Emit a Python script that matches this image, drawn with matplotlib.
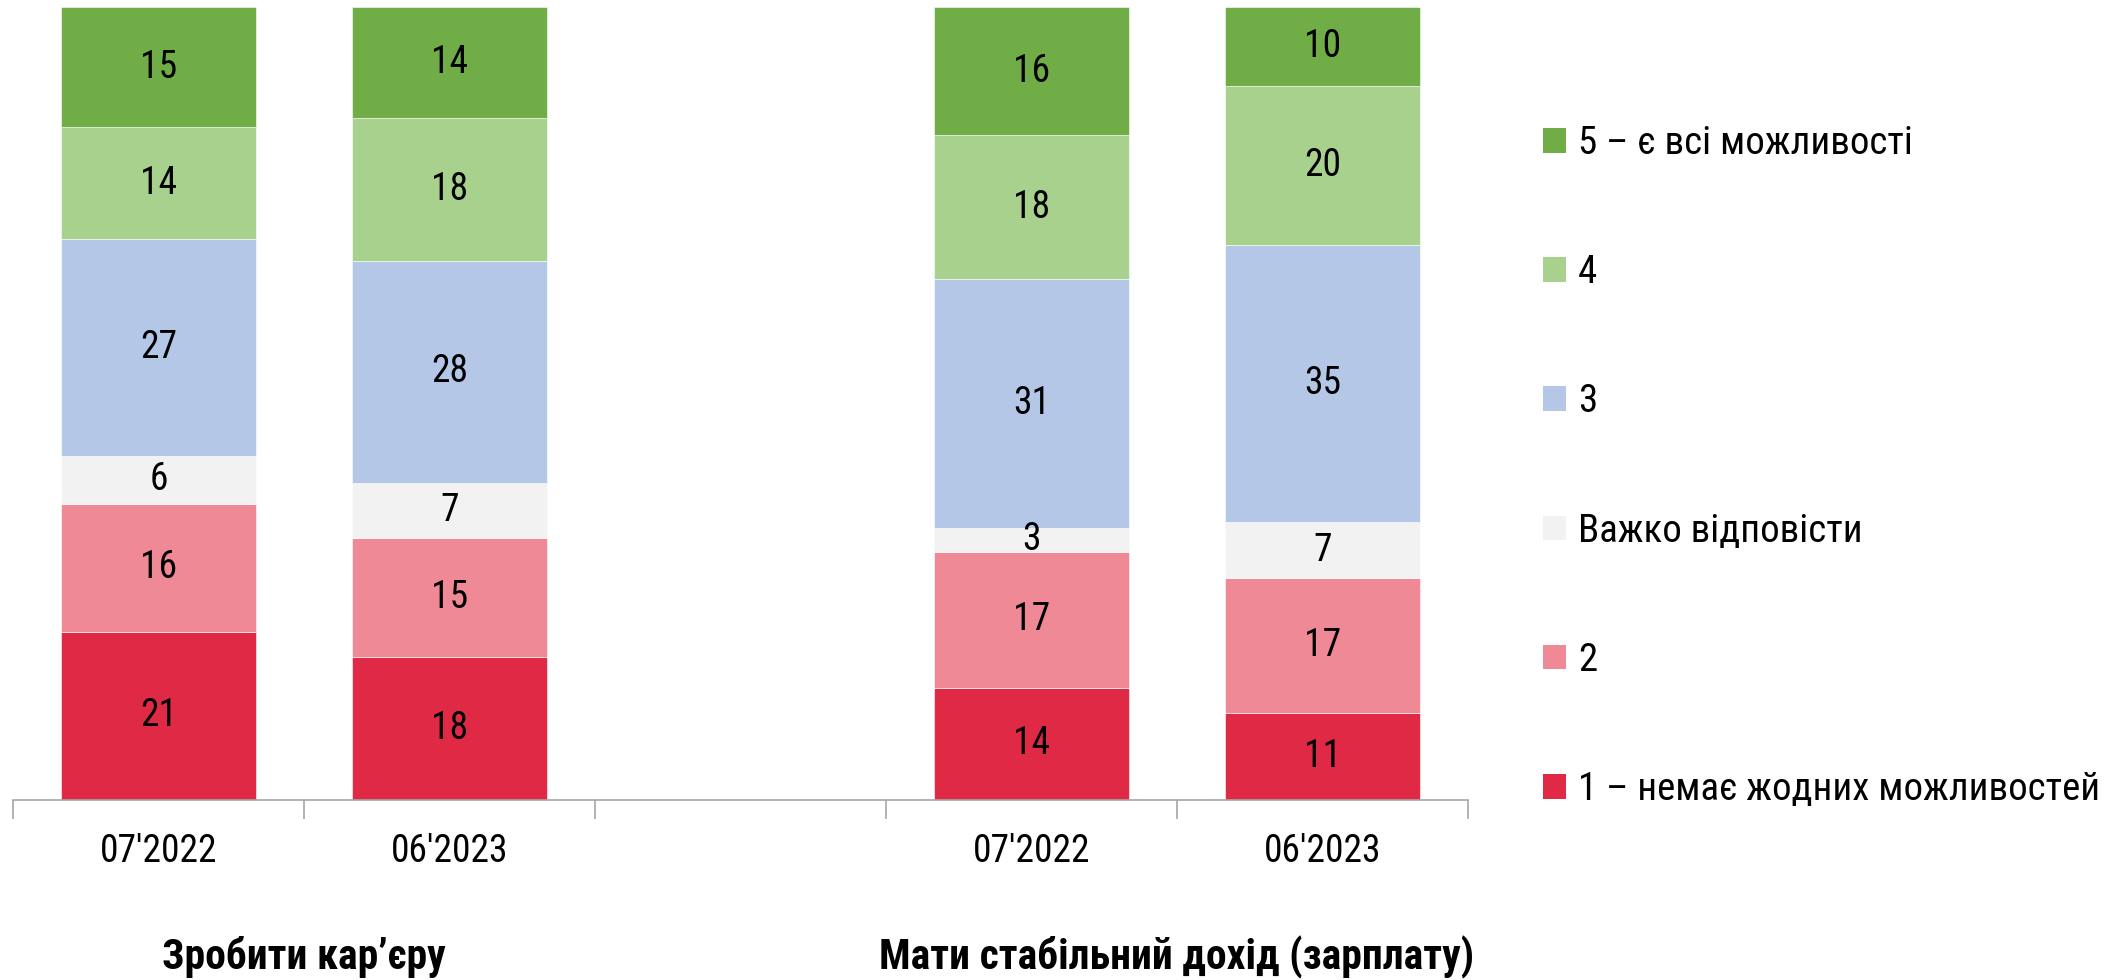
import numpy as np
import matplotlib
matplotlib.use("Agg")
import matplotlib.pyplot as plt
from matplotlib import font_manager
from matplotlib.patches import Patch

# answers, bottom of the stack first
levels = ["1 – немає жодних можливостей", "2", "Важко відповісти", "3", "4", "5 – є всі можливості"]
colors = ["#E02A45", "#EE8995", "#F2F2F2", "#B4C7E7", "#A9D18E", "#70AD47"]

# two questions, two waves each (slot 2 stays empty as a gap)
groups = ["Зробити кар’єру", "Мати стабільний дохід (зарплату)"]
waves = ["07'2022", "06'2023", "07'2022", "06'2023"]
positions = [0, 1, 3, 4]

# values per level, one column per bar
lvl_1 = [21, 18, 14, 11]
lvl_2 = [16, 15, 17, 17]
hard = [6, 7, 3, 7]
lvl_3 = [27, 28, 31, 35]
lvl_4 = [14, 18, 18, 20]
lvl_5 = [15, 14, 16, 10]


def pick_font() -> tuple[str, float]:
	#source uses a narrow Arial, take a narrow face if there is one
	for name in ["Liberation Sans Narrow", "Arial Narrow", "Roboto Condensed"]:
		try:
			font_manager.findfont(font_manager.FontProperties(family=name), fallback_to_default=False)
			return name, 1.0
		except Exception:
			pass
	#plain width font: shrink a bit so the texts keep the same length
	return "Liberation Sans", 0.86


def stacked_chart() -> None:
	family, k = pick_font()
	plt.rcParams["font.family"] = [family, "Liberation Sans", "DejaVu Sans"]
	values = np.array([lvl_1, lvl_2, hard, lvl_3, lvl_4, lvl_5], dtype=float)
	#100% stacked like the source, labels keep the rounded numbers
	shares = values / values.sum(axis=0) * 100

	fig = plt.figure(figsize=(21.23, 9.8), dpi=100)
	ax = fig.add_axes([13 / 2123, 180 / 980, 1455 / 2123, 793 / 980])

	bottom = np.zeros(len(positions))
	for i in range(len(levels)):
		bars = ax.bar(positions, shares[i], width=0.667, bottom=bottom,
			color=colors[i], edgecolor="white", linewidth=0.4)
		for b, v in zip(bars, values[i]):
			ax.text(b.get_x() + b.get_width() / 2, b.get_y() + b.get_height() / 2,
				f"{v:.0f}", ha="center", va="center", fontsize=27 * k, color="black")
		bottom += shares[i]

	ax.set_xlim(-0.5, 4.5)
	ax.set_ylim(0, 100)
	for s in ["top", "right", "left"]:
		ax.spines[s].set_visible(False)
	ax.spines["bottom"].set_color("#A6A6A6")
	ax.spines["bottom"].set_linewidth(1.2)
	ax.set_yticks([])

	#tick marks between slots, labels under the bars
	ax.set_xticks(np.arange(-0.5, 5, 1.0))
	ax.set_xticklabels([])
	ax.tick_params(axis="x", which="major", direction="out", length=14, width=1.2, color="#A6A6A6")
	ax.set_xticks(positions, minor=True)
	ax.set_xticklabels(waves, minor=True, fontsize=27 * k)
	ax.tick_params(axis="x", which="minor", length=0, pad=24)

	#question titles under each pair
	trans = matplotlib.transforms.blended_transform_factory(ax.transData, fig.transFigure)
	ax.text(0.5, 23 / 980, groups[0], transform=trans, ha="center", va="center",
		fontsize=30 * k, fontweight="bold")
	ax.text(3.5, 23 / 980, groups[1], transform=trans, ha="center", va="center",
		fontsize=30 * k, fontweight="bold")

	handles = [Patch(facecolor=c, edgecolor="none") for c in colors]
	fig.legend(handles[::-1], levels[::-1], loc="center left", bbox_to_anchor=(1543 / 2123, 0.524),
		frameon=False, fontsize=28 * k, borderpad=0, borderaxespad=0, handlelength=0.6,
		handleheight=0.6, handletextpad=0.3, labelspacing=2.37)

	fig.savefig("out.png", dpi=100)


def main() -> int:
	stacked_chart()
	return 0


if __name__ == "__main__":
	raise SystemExit(main())
